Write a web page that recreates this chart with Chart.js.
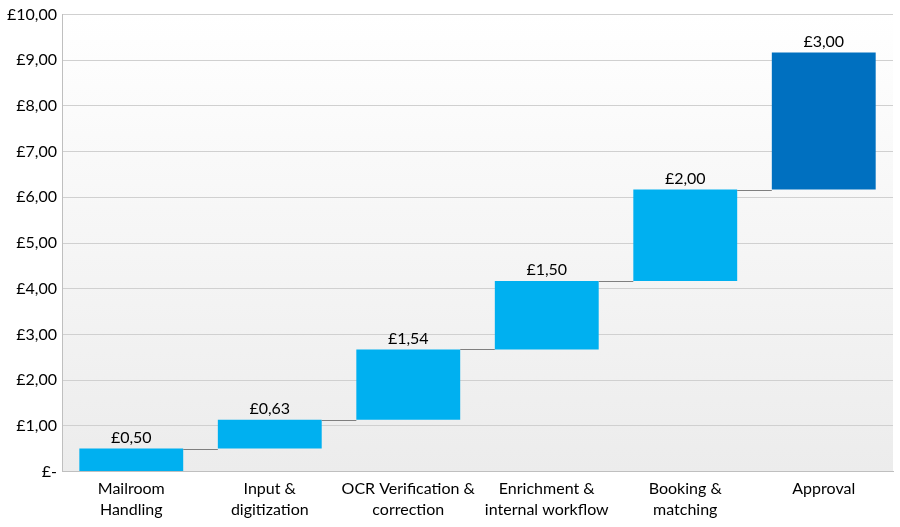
<!DOCTYPE html>
<html>
<head>
<meta charset="utf-8">
<script src="https://cdn.jsdelivr.net/npm/chart.js@4"></script>
<style>
  html, body { margin: 0; padding: 0; background: #fff; }
  #wrap { width: 900px; height: 527px; }
</style>
</head>
<body>
<div id="wrap"><canvas id="waterfall"></canvas></div>
<script>
const categories = [
  ["Mailroom", "Handling"],
  ["Input &", "digitization"],
  ["OCR Verification &", "correction"],
  ["Enrichment &", "internal workflow"],
  ["Booking &", "matching"],
  "Approval"
];
const steps = [0.50, 0.63, 1.54, 1.50, 2.00, 3.00];
const barColors = ["#00B0F0", "#00B0F0", "#00B0F0", "#00B0F0", "#00B0F0", "#0070C0"];

// floating bars: each step starts where the previous one ended
const ranges = [];
let running = 0;
steps.forEach(v => {
  ranges.push([running, running + v]);
  running += v;
});

function money(v) {
  if (v === 0) return "£-";
  return "£" + v.toFixed(2).replace(".", ",");
}

const FONT = "Lato, 'Open Sans', sans-serif";

const bgPlugin = {
  id: "bg",
  beforeDraw(chart) {
    const { ctx, chartArea: a } = chart;
    const g = ctx.createLinearGradient(0, a.top, 0, a.bottom);
    g.addColorStop(0, "#ffffff");
    g.addColorStop(1, "#ececec");
    ctx.save();
    ctx.fillStyle = g;
    ctx.fillRect(a.left, a.top, a.right - a.left, a.bottom - a.top);
    ctx.restore();
  }
};

const extrasPlugin = {
  id: "extras",
  afterDatasetsDraw(chart) {
    const ctx = chart.ctx;
    const meta = chart.getDatasetMeta(0);
    const y = chart.scales.y;
    ctx.save();
    // connector lines
    ctx.strokeStyle = "#7f7f7f";
    ctx.lineWidth = 1;
    for (let i = 0; i < meta.data.length - 1; i++) {
      const a = meta.data[i], b = meta.data[i + 1];
      const py = Math.round(y.getPixelForValue(ranges[i][1])) + 0.5;
      ctx.beginPath();
      ctx.moveTo(a.x + a.width / 2, py);
      ctx.lineTo(b.x - b.width / 2, py);
      ctx.stroke();
    }
    // value labels
    ctx.fillStyle = "#000";
    ctx.font = "16px " + FONT;
    ctx.textAlign = "center";
    ctx.textBaseline = "bottom";
    meta.data.forEach((bar, i) => {
      ctx.fillText(money(steps[i]), bar.x, y.getPixelForValue(ranges[i][1]) - 3);
    });
    ctx.restore();
  }
};

new Chart(document.getElementById("waterfall"), {
  type: "bar",
  data: {
    labels: categories,
    datasets: [{
      data: ranges,
      backgroundColor: barColors,
      borderWidth: 0,
      categoryPercentage: 1,
      barPercentage: 0.75
    }]
  },
  options: {
    responsive: true,
    maintainAspectRatio: false,
    animation: false,
    layout: { padding: { top: 8, right: 7, bottom: 0, left: 2 } },
    plugins: {
      legend: { display: false },
      tooltip: { enabled: false }
    },
    scales: {
      x: {
        grid: { display: false, drawTicks: false },
        border: { color: "#bfbfbf" },
        ticks: { color: "#000", font: { family: FONT, size: 16, lineHeight: 1.3 }, padding: 7, maxRotation: 0, autoSkip: false }
      },
      y: {
        min: 0,
        max: 10,
        grid: { color: "#d0d0d0", drawTicks: false },
        border: { color: "#bfbfbf" },
        ticks: {
          stepSize: 1,
          color: "#000",
          padding: 5,
          font: { family: FONT, size: 16 },
          callback: v => money(v)
        }
      }
    }
  },
  plugins: [bgPlugin, extrasPlugin]
});
</script>
</body>
</html>
